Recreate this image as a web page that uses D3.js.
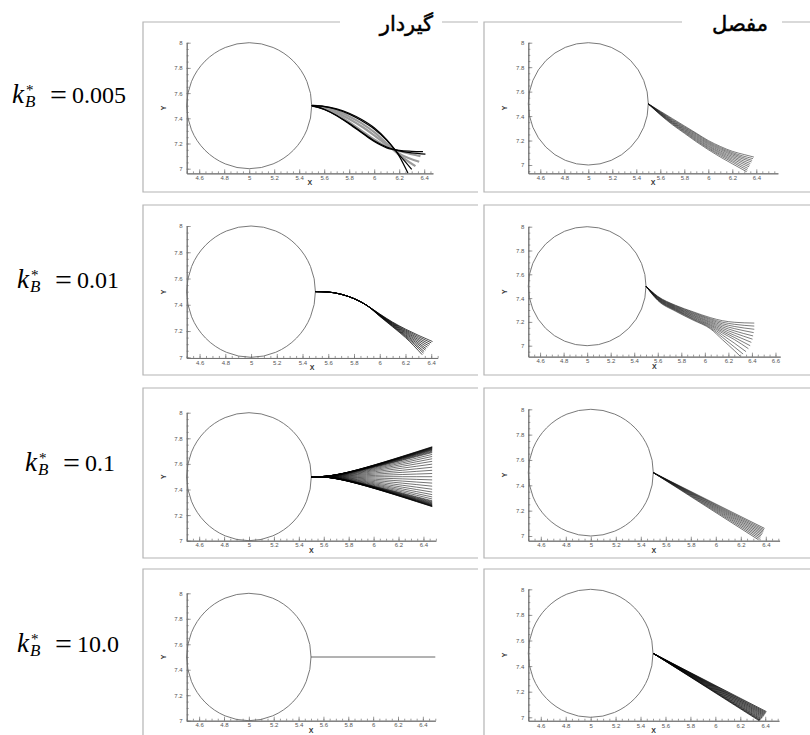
<!DOCTYPE html>
<html>
<head>
<meta charset="utf-8">
<script src="https://cdn.jsdelivr.net/npm/d3@7/dist/d3.min.js"></script>
<style>
html,body{margin:0;padding:0;background:#fff;}
svg{display:block;}
</style>
</head>
<body>
<svg id="chart" width="810" height="735"></svg>
<script>
// ---------------- data ----------------
const kValues = ["0.005", "0.01", "0.1", "10.0"];
const supportTitles = ["گیردار", "مفصل"];
const xTickValues = [4.6, 4.8, 5, 5.2, 5.4, 5.6, 5.8, 6, 6.2, 6.4, 6.6];
const yTickValues = [7, 7.2, 7.4, 7.6, 7.8, 8];
const cylinderCentre = [5, 7.5];
const cylinderRadius = 0.5;
const fiberRoot = [5.5, 7.5];

// k*B = 0.005 , fixed (گیردار)
const fixed005Black = [
  [[5.5,7.5],[5.6,7.495],[5.7,7.475],[5.8,7.44],[5.9,7.39],[6.0,7.325],[6.1,7.23],[6.2,7.1],[6.27,6.965]],
  [[5.5,7.5],[5.6,7.493],[5.7,7.47],[5.8,7.433],[5.9,7.38],[6.0,7.315],[6.1,7.225],[6.2,7.11],[6.3,6.995]],
  [[5.5,7.5],[5.6,7.47],[5.7,7.42],[5.8,7.355],[5.9,7.285],[6.0,7.215],[6.1,7.165],[6.2,7.145],[6.3,7.138],[6.39,7.135]],
  [[5.5,7.5],[5.6,7.472],[5.7,7.423],[5.8,7.36],[5.9,7.29],[6.0,7.222],[6.1,7.172],[6.2,7.142],[6.3,7.125],[6.41,7.115]]
];
const fixed005Gray = [
  [[5.5,7.5],[5.6,7.488],[5.7,7.46],[5.8,7.415],[5.9,7.36],[6.0,7.29],[6.1,7.2],[6.2,7.11],[6.33,7.02]],
  [[5.5,7.5],[5.6,7.482],[5.7,7.445],[5.8,7.395],[5.9,7.335],[6.0,7.265],[6.1,7.19],[6.2,7.12],[6.36,7.055]],
  [[5.5,7.5],[5.6,7.476],[5.7,7.43],[5.8,7.37],[5.9,7.3],[6.0,7.232],[6.1,7.175],[6.2,7.14],[6.3,7.115],[6.37,7.1]]
];

// k*B = 0.005 , hinged (مفصل)
const hinged005 = [
  [[5.5,7.5],[5.6,7.41],[5.7,7.33],[5.8,7.26],[5.9,7.19],[6.0,7.125],[6.1,7.065],[6.2,7.01],[6.32,6.945]],
  [[5.5,7.5],[5.6,7.413],[5.7,7.336],[5.8,7.267],[5.9,7.198],[6.0,7.134],[6.1,7.076],[6.2,7.024],[6.325,6.958]],
  [[5.5,7.5],[5.6,7.416],[5.7,7.341],[5.8,7.274],[5.9,7.206],[6.0,7.142],[6.1,7.086],[6.2,7.036],[6.33,6.972]],
  [[5.5,7.5],[5.6,7.419],[5.7,7.346],[5.8,7.28],[5.9,7.214],[6.0,7.151],[6.1,7.096],[6.2,7.048],[6.34,6.985]],
  [[5.5,7.5],[5.6,7.422],[5.7,7.351],[5.8,7.287],[5.9,7.222],[6.0,7.159],[6.1,7.105],[6.2,7.06],[6.345,6.998]],
  [[5.5,7.5],[5.6,7.426],[5.7,7.356],[5.8,7.293],[5.9,7.23],[6.0,7.168],[6.1,7.115],[6.2,7.071],[6.35,7.012]],
  [[5.5,7.5],[5.6,7.429],[5.7,7.361],[5.8,7.3],[5.9,7.238],[6.0,7.176],[6.1,7.125],[6.2,7.082],[6.36,7.025]],
  [[5.5,7.5],[5.6,7.432],[5.7,7.367],[5.8,7.306],[5.9,7.246],[6.0,7.184],[6.1,7.134],[6.2,7.092],[6.365,7.038]],
  [[5.5,7.5],[5.6,7.436],[5.7,7.373],[5.8,7.313],[5.9,7.254],[6.0,7.192],[6.1,7.143],[6.2,7.102],[6.372,7.052]],
  [[5.5,7.5],[5.6,7.44],[5.7,7.38],[5.8,7.32],[5.9,7.26],[6.0,7.2],[6.1,7.152],[6.2,7.112],[6.3,7.085],[6.38,7.065]]
];

// k*B = 0.01 , fixed
const fixed01Head = [[5.5,7.5],[5.6,7.497],[5.7,7.48],[5.8,7.447],[5.9,7.395]];
const fixed01Tails = [
  [[6.0,7.312],[6.1,7.232],[6.2,7.15],[6.33,7.02]],
  [[6.0,7.314],[6.1,7.236],[6.2,7.158],[6.34,7.032]],
  [[6.0,7.316],[6.1,7.24],[6.2,7.165],[6.345,7.044]],
  [[6.0,7.318],[6.1,7.244],[6.2,7.172],[6.355,7.055]],
  [[6.0,7.32],[6.1,7.248],[6.2,7.18],[6.36,7.066]],
  [[6.0,7.322],[6.1,7.252],[6.2,7.187],[6.37,7.077]],
  [[6.0,7.324],[6.1,7.256],[6.2,7.194],[6.38,7.088]],
  [[6.0,7.326],[6.1,7.26],[6.2,7.201],[6.39,7.099]],
  [[6.0,7.328],[6.1,7.264],[6.2,7.208],[6.4,7.11]],
  [[6.0,7.33],[6.1,7.268],[6.2,7.215],[6.41,7.12]]
];

// k*B = 0.01 , hinged
const hinged01X = [5.5, 5.6, 5.75, 5.9, 6.05, 6.15, 6.25];
const hinged01Y = [
  [7.5, 7.415, 7.34, 7.285, 7.235, 7.21, 7.197],
  [7.5, 7.412, 7.336, 7.279, 7.226, 7.197, 7.18],
  [7.5, 7.409, 7.331, 7.272, 7.218, 7.184, 7.162],
  [7.5, 7.406, 7.327, 7.266, 7.209, 7.171, 7.144],
  [7.5, 7.403, 7.322, 7.259, 7.2, 7.158, 7.125],
  [7.5, 7.4, 7.318, 7.253, 7.192, 7.145, 7.107],
  [7.5, 7.396, 7.313, 7.246, 7.183, 7.132, 7.088],
  [7.5, 7.393, 7.309, 7.24, 7.174, 7.119, 7.07],
  [7.5, 7.39, 7.304, 7.233, 7.166, 7.106, 7.052],
  [7.5, 7.387, 7.3, 7.227, 7.157, 7.089, 7.022],
  [7.5, 7.384, 7.295, 7.221, 7.148, 7.07, 6.99],
  [7.5, 7.38, 7.29, 7.215, 7.14, 7.05, 6.96]
];
const hinged01End = [
  [6.42,7.19],[6.42,7.165],[6.42,7.138],[6.415,7.11],[6.41,7.082],[6.405,7.055],
  [6.395,7.028],[6.385,7.0],[6.37,6.975],[6.35,6.95],[6.325,6.93],[6.3,6.912]
];

// k*B = 0.1 , fixed (fan)
const fixed1Pivot = [5.72, 7.5];
const fixed1EndX = 6.47;
const fixed1EndY = [7.734,7.732,7.73,7.728,7.726,7.723,7.72,7.717,7.714,7.71,7.706,7.7,7.694,7.688,7.674,7.658,
                    7.64,7.62,7.598,7.574,7.55,7.525,7.5,7.475,7.45,7.426,7.402,7.38,7.36,7.342,7.326,7.312,
                    7.306,7.3,7.295,7.29,7.286,7.282,7.279,7.276,7.273,7.271,7.269,7.268,7.266];

// k*B = 0.1 , hinged
const hinged1End = [[6.39,7.06],[6.386,7.05],[6.382,7.04],[6.378,7.03],[6.373,7.02],
                    [6.368,7.01],[6.362,7.0],[6.356,6.99],[6.349,6.98],[6.342,6.97]];

// k*B = 10 , fixed
const fixed10 = [[5.5,7.5],[6.5,7.5]];

// k*B = 10 , hinged
const hinged10End = [[6.41,7.044],[6.406,7.038],[6.402,7.032],[6.398,7.026],[6.394,7.02],[6.39,7.014],
                     [6.385,7.008],[6.38,7.002],[6.375,6.996],[6.37,6.99],[6.365,6.985],[6.36,6.98],
                     [6.355,6.977],[6.35,6.974]];

// ---------------- layout ----------------
const svg = d3.select("#chart");
const rowTop = [22, 205, 388, 569];
const rowH = 170;
const colX = [[143, 478], [484, 812]];
const titleGap = [[340, 442], [682, 782]];
const titleEnd = [433, 768];
const kLabelX = [12, 17, 25, 17];
const kLabelY = [103, 288, 471, 652];
const frameColor = "#b4b4b4";

// frames
rowTop.forEach((top, r) => {
  colX.forEach(([xl, xr], c) => {
    const bot = top + rowH;
    let d;
    if (r === 0) {
      d = `M${titleGap[c][0]},${top}H${xl}V${bot}H${xr}M${titleGap[c][1]},${top}H${xr}`;
    } else {
      d = `M${xr},${top}H${xl}V${bot}H${xr}`;
    }
    svg.append("path").attr("d", d).attr("fill", "none")
      .attr("stroke", frameColor).attr("stroke-width", 1.2);
  });
});

// column titles
supportTitles.forEach((t, c) => {
  svg.append("text").attr("x", titleEnd[c]).attr("y", 31)
    .attr("text-anchor", "end")
    .attr("font-family", "DejaVu Sans, sans-serif").attr("font-size", 21)
    .attr("stroke", "#000").attr("stroke-width", 0.5)
    .attr("fill", "#000").text(t);
});

// k labels
kValues.forEach((v, r) => {
  const x0 = kLabelX[r], y0 = kLabelY[r];
  const g = svg.append("g").attr("font-family", "Liberation Serif, serif").attr("fill", "#000");
  g.append("text").attr("x", x0).attr("y", y0).attr("font-style", "italic").attr("font-size", 27).text("k");
  g.append("text").attr("x", x0 + 14).attr("y", y0 - 8).attr("font-size", 15).text("*");
  g.append("text").attr("x", x0 + 13).attr("y", y0 + 4).attr("font-style", "italic").attr("font-size", 17).text("B");
  g.append("text").attr("x", x0 + 38).attr("y", y0 + 2).attr("font-size", 30).text("=");
  g.append("text").attr("x", x0 + 60).attr("y", y0).attr("font-size", 24).text(v);
});

const panels = [
  {r:0, c:0, x0:186.7, kx:125,   y8:42.7,  ky:126,   xMax:6.47, yMin:6.963, key:"f005"},
  {r:0, c:1, x0:528.3, kx:120,   y8:42.7,  ky:122.3, xMax:6.58, yMin:6.932, key:"h005"},
  {r:1, c:0, x0:186.7, kx:128.7, y8:226,   ky:131.3, xMax:6.45, yMin:6.995, key:"f01"},
  {r:1, c:1, x0:528.3, kx:117.7, y8:226.7, ky:119,   xMax:6.64, yMin:6.908, key:"h01"},
  {r:2, c:0, x0:186.7, kx:124.6, y8:412.7, ky:128,   xMax:6.5,  yMin:7.0,   key:"f1"},
  {r:2, c:1, x0:528.3, kx:125,   y8:409.3, ky:126.7, xMax:6.51, yMin:6.963, key:"h1"},
  {r:3, c:0, x0:186.7, kx:124.3, y8:593.3, ky:127.4, xMax:6.5,  yMin:7.0,   key:"f10"},
  {r:3, c:1, x0:528.3, kx:124.7, y8:589.3, ky:128,   xMax:6.51, yMin:6.973, key:"h10"}
];

const axisColor = "#707070";
const fmt = d3.format("~g");

panels.forEach(p => {
  const g = svg.append("g");
  const xs = d3.scaleLinear().domain([4.5, p.xMax]).range([p.x0, p.x0 + (p.xMax - 4.5) * p.kx]);
  const ys = d3.scaleLinear().domain([p.yMin, 8]).range([p.y8 + (8 - p.yMin) * p.ky, p.y8]);
  const yBase = ys(p.yMin);

  // minor ticks
  const minorX = d3.range(4.5, p.xMax + 1e-9, 0.05);
  const minorY = d3.range(8, p.yMin - 1e-9, -0.05);
  const xMinor = d3.axisBottom(xs).tickValues(minorX).tickSize(-2).tickSizeOuter(0).tickFormat("");
  const yMinor = d3.axisLeft(ys).tickValues(minorY).tickSize(-2).tickSizeOuter(0).tickFormat("");
  g.append("g").attr("transform", `translate(0,${yBase})`).call(xMinor);
  g.append("g").attr("transform", `translate(${p.x0},0)`).call(yMinor);

  const xAxis = d3.axisBottom(xs).tickValues(xTickValues.filter(v => v <= p.xMax + 1e-9))
    .tickSize(-4).tickSizeOuter(0).tickPadding(2.5).tickFormat(fmt);
  const yAxis = d3.axisLeft(ys).tickValues(yTickValues.filter(v => v >= p.yMin - 1e-9))
    .tickSize(-4).tickSizeOuter(0).tickPadding(4).tickFormat(fmt);
  g.append("g").attr("transform", `translate(0,${yBase})`).call(xAxis);
  g.append("g").attr("transform", `translate(${p.x0},0)`).call(yAxis);

  g.selectAll(".domain").attr("stroke", axisColor).attr("stroke-width", 0.9);
  g.selectAll(".tick line").attr("stroke", axisColor).attr("stroke-width", 0.7);
  g.selectAll(".tick text").attr("fill", "#555").attr("font-size", 6)
    .attr("font-family", "Liberation Sans, Arial, sans-serif");

  // axis titles
  g.append("text").attr("x", (xs.range()[0] + xs.range()[1]) / 2).attr("y", yBase + 12)
    .attr("text-anchor", "middle").attr("font-family", "Liberation Sans, Arial, sans-serif")
    .attr("font-weight", "bold").attr("font-size", 7).attr("fill", "#333").text("X");
  const ym = (ys.range()[0] + ys.range()[1]) / 2;
  g.append("text").attr("transform", `translate(${p.x0 - 21},${ym}) rotate(-90)`)
    .attr("text-anchor", "middle").attr("font-family", "Liberation Sans, Arial, sans-serif")
    .attr("font-weight", "bold").attr("font-size", 7).attr("fill", "#333").text("Y");

  // cylinder
  g.append("ellipse")
    .attr("cx", xs(cylinderCentre[0])).attr("cy", ys(cylinderCentre[1]))
    .attr("rx", xs(cylinderCentre[0] + cylinderRadius) - xs(cylinderCentre[0]))
    .attr("ry", ys(cylinderCentre[1] - cylinderRadius) - ys(cylinderCentre[1]))
    .attr("fill", "none").attr("stroke", "#6a6a6a").attr("stroke-width", 0.9);

  const smooth = d3.line().x(d => xs(d[0])).y(d => ys(d[1])).curve(d3.curveMonotoneX);
  const basis = d3.line().x(d => xs(d[0])).y(d => ys(d[1])).curve(d3.curveBasis);
  const straight = d3.line().x(d => xs(d[0])).y(d => ys(d[1]));
  const lines = g.append("g").attr("fill", "none");

  const draw = (data, gen, color, w) => {
    lines.append("g").selectAll("path").data(data).join("path")
      .attr("d", gen).attr("stroke", color).attr("stroke-width", w).attr("fill", "none");
  };

  switch (p.key) {
    case "f005":
      draw(fixed005Gray, smooth, "#9a9a9a", 2.2);
      draw(fixed005Black, smooth, "#000", 1.2);
      break;
    case "h005":
      draw(hinged005, smooth, "#111", 0.55);
      break;
    case "f01":
      draw(fixed01Tails.map(t => fixed01Head.concat(t)), smooth, "#000", 0.7);
      break;
    case "h01":
      draw(hinged01Y.map((yv, i) => yv.map((y, j) => [hinged01X[j], y]).concat([hinged01End[i]])),
           smooth, "#111", 0.55);
      break;
    case "f1":
      draw(fixed1EndY.map(y => [fiberRoot, fixed1Pivot, [fixed1EndX, y]]), basis, "#000", 0.55);
      break;
    case "h1":
      draw(hinged1End.map(e => [fiberRoot, e]), straight, "#111", 0.6);
      break;
    case "f10":
      draw([fixed10], straight, "#555", 0.9);
      break;
    case "h10":
      draw(hinged10End.map(e => [fiberRoot, e]), straight, "#000", 0.7);
      break;
  }
});
</script>
</body>
</html>
